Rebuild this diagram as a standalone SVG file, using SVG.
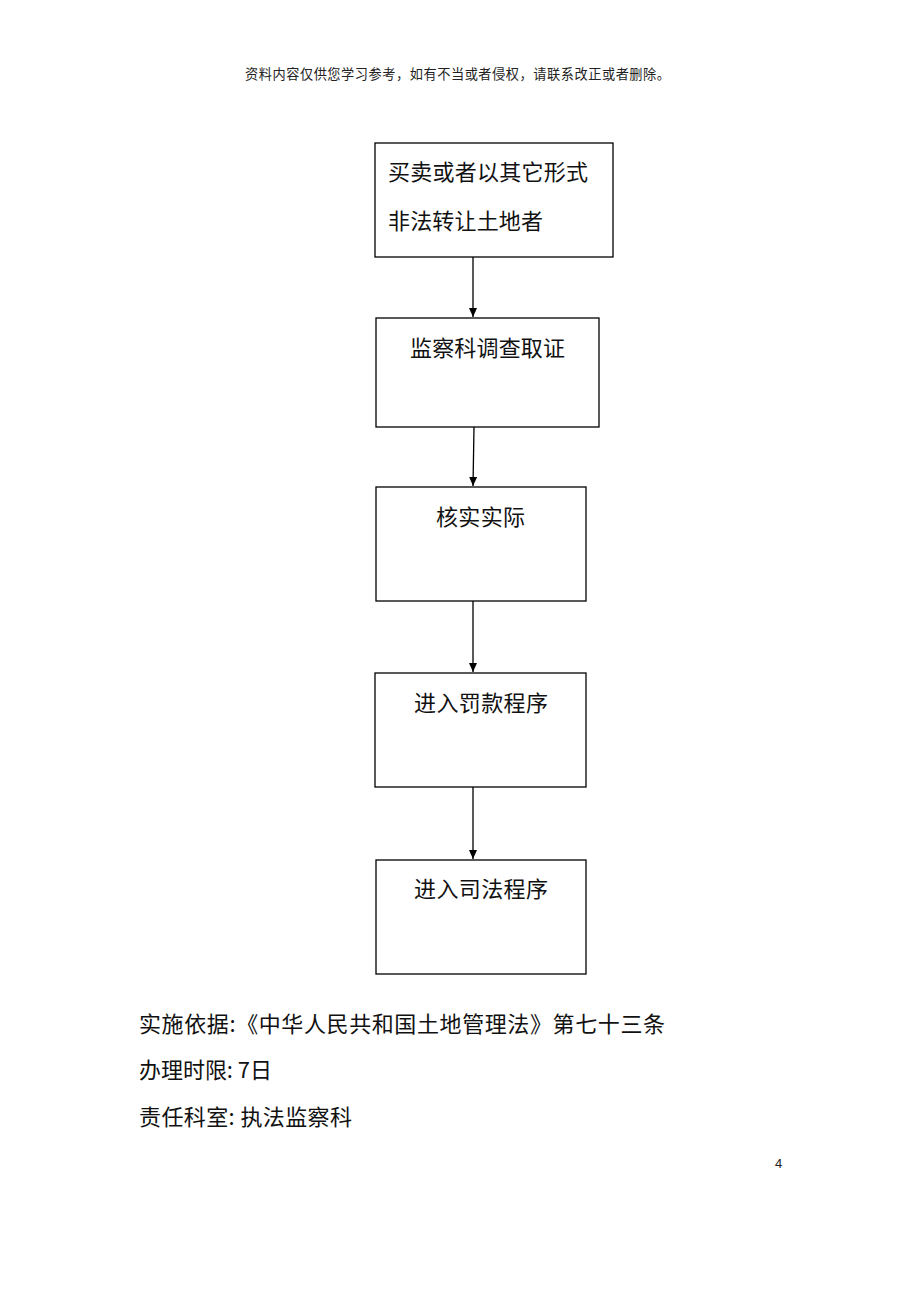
<svg xmlns="http://www.w3.org/2000/svg" width="920" height="1302" viewBox="0 0 920 1302">
<style>
.box{fill:#fff;stroke:#000;stroke-width:1.3}
.t{font-family:"Noto Sans CJK SC","Liberation Serif",serif;font-size:22px;fill:#111}
.h{font-family:"Noto Sans CJK SC","Liberation Serif",serif;font-size:13.2px;fill:#222}
.c{stroke:#000;stroke-width:1.3;fill:none}
</style>
<defs>
<marker id="ah" markerWidth="10" markerHeight="10" refX="9" refY="5" orient="auto" markerUnits="userSpaceOnUse">
<path d="M0,1 L9,5 L0,9 Z" fill="#000"/>
</marker>
</defs>
<rect width="920" height="1302" fill="#fff"/>
<text class="h" x="245" y="79" textLength="425">资料内容仅供您学习参考，如有不当或者侵权，请联系改正或者删除。</text>
<g id="n1">
<rect class="box" x="375" y="143" width="238" height="114"/>
<text class="t" x="388" y="180" textLength="200">买卖或者以其它形式</text>
<text class="t" x="388" y="229" textLength="155">非法转让土地者</text>
</g>
<g id="n2">
<rect class="box" x="376" y="318" width="223" height="109"/>
<text class="t" x="410" y="356" textLength="155">监察科调查取证</text>
</g>
<g id="n3">
<rect class="box" x="376" y="487" width="210" height="114"/>
<text class="t" x="436" y="525" textLength="89">核实实际</text>
</g>
<g id="n4">
<rect class="box" x="375" y="673" width="211" height="114"/>
<text class="t" x="414" y="711" textLength="134">进入罚款程序</text>
</g>
<g id="n5">
<rect class="box" x="376" y="860" width="210" height="114"/>
<text class="t" x="414" y="897" textLength="134">进入司法程序</text>
</g>
<g id="connectors">
<line class="c" x1="473" y1="257" x2="473" y2="317" marker-end="url(#ah)"/>
<line class="c" x1="474" y1="427" x2="473" y2="486" marker-end="url(#ah)"/>
<line class="c" x1="473" y1="601" x2="473" y2="672" marker-end="url(#ah)"/>
<line class="c" x1="473" y1="787" x2="473" y2="859" marker-end="url(#ah)"/>
</g>
<text class="t" x="139" y="1032" textLength="526">实施依据:《中华人民共和国土地管理法》第七十三条</text>
<text class="t" x="139" y="1078" textLength="133">办理时限: 7日</text>
<text class="t" x="139" y="1125" textLength="213">责任科室: 执法监察科</text>
<text x="775" y="1168" font-family="Liberation Sans, sans-serif" font-size="13" fill="#222">4</text>
</svg>
